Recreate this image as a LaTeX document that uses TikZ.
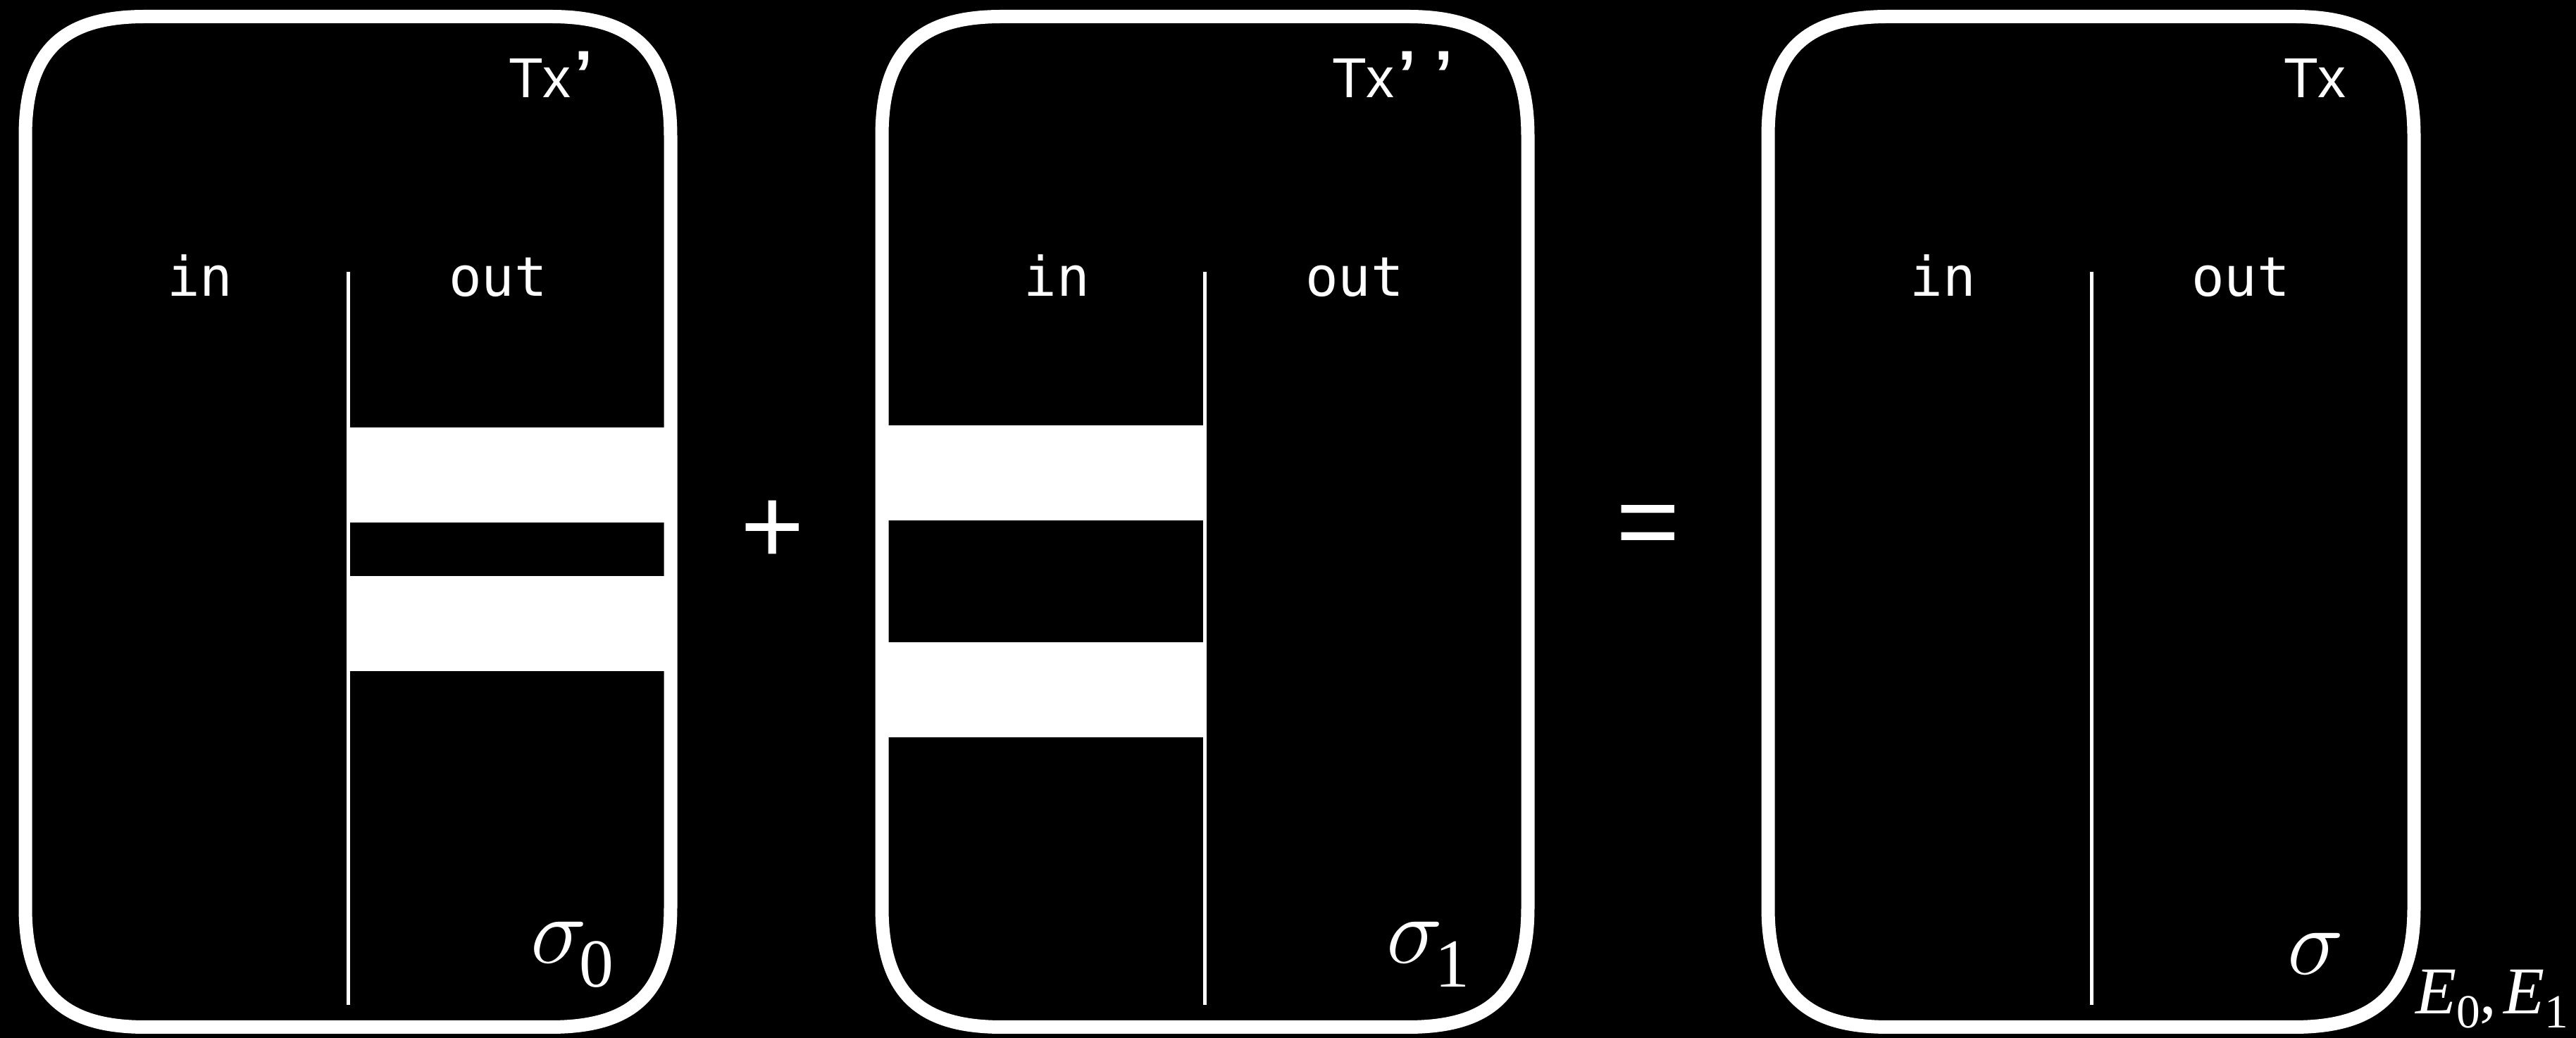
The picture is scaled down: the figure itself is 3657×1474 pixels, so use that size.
\RequirePackage{fix-cm}
\documentclass[tikz,border=0pt]{standalone}
\usepackage{fontspec}
\setmainfont{Liberation Serif}
\newfontfamily\txfont{Liberation Sans}
\newfontfamily\inoutfont{DejaVu Sans Mono}
\newcommand\myroundbox[4]{%
  \draw[boxline] ({#1},{#2+170}) .. controls ({#1},{#2+51}) and ({#1+51},{#2}) .. ({#1+170},{#2})
    -- ({#3-170},{#2}) .. controls ({#3-51},{#2}) and ({#3},{#2+51}) .. ({#3},{#2+170})
    -- ({#3},{#4-170}) .. controls ({#3},{#4-51}) and ({#3-51},{#4}) .. ({#3-170},{#4})
    -- ({#1+170},{#4}) .. controls ({#1+51},{#4}) and ({#1},{#4-51}) .. ({#1},{#4-170}) -- cycle;}
\tikzset{
  boxline/.style={draw=white, line width=3.8pt},
  divider/.style={draw=white, line width=1pt},
  bar/.style={fill=white},
  txlabel/.style={text=white, inner sep=0pt, anchor=base west, font=\txfont\fontsize{16}{16}\selectfont},
  iolabel/.style={text=white, inner sep=0pt, anchor=base, font=\inoutfont\fontsize{15.5}{15.5}\selectfont},
  statelabel/.style={text=white, inner sep=0pt, anchor=base west},
  opsign/.style={text=white, inner sep=0pt, anchor=center, font=\txfont\fontsize{31}{31}\selectfont}
}
\newcommand\apos{\hspace{1pt}{\bfseries\fontsize{19}{19}\selectfont ’}}
\newcommand\bigsig{{\fontsize{27}{27}\selectfont$\sigma$}}
\newcommand\sigsub[1]{\bigsig\hspace{-2pt}\raisebox{-6.7pt}{\fontsize{19.5}{19.5}\selectfont #1}}
\begin{document}
\begin{tikzpicture}[x=0.2pt, y=-0.2pt]
  \fill[black] (0,0) rectangle (3657,1474);
  \useasboundingbox (0,0) rectangle (3657,1474);
  % bars
  \fill[bar] (494,607) rectangle (952,742);
  \fill[bar] (494,818) rectangle (952,953);
  \fill[bar] (1252,604) rectangle (1710,739);
  \fill[bar] (1252,912) rectangle (1710,1047);
  % boxes
  \myroundbox{36}{23.5}{952}{1458.5}
  \myroundbox{1252}{23.5}{2169}{1458.5}
  \myroundbox{2510}{23.5}{3427}{1458.5}
  % dividers
  \coordinate (d1t) at (494.5,386); \coordinate (d1b) at (494.5,1427);
  \coordinate (d2t) at (1710,386);  \coordinate (d2b) at (1710,1427);
  \coordinate (d3t) at (2969.5,386); \coordinate (d3b) at (2969.5,1427);
  \draw[divider] (d1t) -- (d1b);
  \draw[divider] (d2t) -- (d2b);
  \draw[divider] (d3t) -- (d3b);
  % labels
  \node[txlabel] (tx1) at (721,139) {Tx\apos};
  \node[txlabel] (tx2) at (1890,139) {Tx\apos\hspace{4pt}\apos};
  \node[txlabel] (tx3) at (3241,139) {Tx};
  \node[iolabel] (in1) at (284,421) {in};
  \node[iolabel] (out1) at (707,421) {out};
  \node[iolabel] (in2) at (1500,421) {in};
  \node[iolabel] (out2) at (1923,421) {out};
  \node[iolabel] (in3) at (2758,421) {in};
  \node[iolabel] (out3) at (3181,421) {out};
  \node[statelabel] (s0) at (752,1368) {\sigsub{0}};
  \node[statelabel] (s1) at (1967,1368) {\sigsub{1}};
  \node[statelabel] (s) at (3246,1384) {\bigsig};
  \node[statelabel] (ee) at (3428,1440) {\fontsize{19}{19}\selectfont{\itshape E}\raisebox{-4pt}{\fontsize{13.5}{13.5}\selectfont 0},\hspace{2pt}{\itshape E}\raisebox{-4pt}{\fontsize{13.5}{13.5}\selectfont 1}};
  \node[opsign] (plus) at (1097,756) {+};
  \node[opsign] (eq) at (2340,756) {=};
\end{tikzpicture}
\end{document}
